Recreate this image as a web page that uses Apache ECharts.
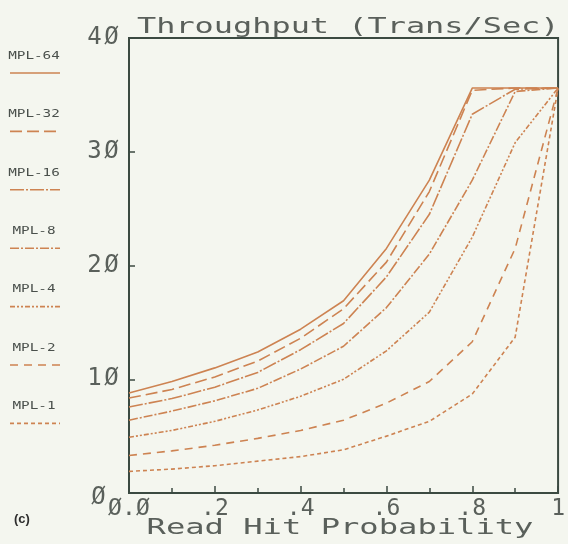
<!DOCTYPE html>
<html><head><meta charset="utf-8">
<script src="https://cdn.jsdelivr.net/npm/echarts@6/dist/echarts.min.js"></script>
<style>html,body{margin:0;padding:0;background:#f4f6ef;} #c{width:568px;height:544px;}</style>
</head><body><div id="c"></div>
<script>
// ---- data ----
const xValues = [0, 0.1, 0.2, 0.3, 0.4, 0.5, 0.6, 0.7, 0.8, 0.9, 1.0];
const seriesNames = ['MPL-64', 'MPL-32', 'MPL-16', 'MPL-8', 'MPL-4', 'MPL-2', 'MPL-1'];
const mpl64 = [8.8, 9.8, 11.0, 12.4, 14.4, 16.9, 21.5, 27.5, 35.6, 35.6, 35.6];
const mpl32 = [8.35, 9.1, 10.2, 11.6, 13.6, 16.2, 20.3, 26.5, 35.4, 35.6, 35.6];
const mpl16 = [7.56, 8.3, 9.3, 10.6, 12.6, 14.9, 19.0, 24.5, 33.3, 35.5, 35.6];
const mpl8  = [6.4, 7.2, 8.1, 9.2, 10.9, 12.9, 16.3, 21.0, 27.5, 35.3, 35.6];
const mpl4  = [4.9, 5.5, 6.3, 7.3, 8.5, 10.0, 12.5, 15.9, 22.5, 30.8, 35.6];
const mpl2  = [3.3, 3.7, 4.2, 4.8, 5.5, 6.4, 7.9, 9.8, 13.3, 21.5, 35.6];
const mpl1  = [1.9, 2.1, 2.4, 2.8, 3.2, 3.8, 5.0, 6.3, 8.7, 13.7, 35.6];
const xTickLabels = ['Ø.Ø', '.2', '.4', '.6', '.8', '1'];
const yTickLabels = ['Ø', '1Ø', '2Ø', '3Ø', '4Ø'];
const titleText = 'Throughput (Trans/Sec)';
const xAxisName = 'Read Hit Probability';
const panelLabel = '(c)';

// ---- styles ----
const allSeries = [mpl64, mpl32, mpl16, mpl8, mpl4, mpl2, mpl1];
const dashes = ['solid', [12, 5], [14, 2, 2, 2], [9, 2, 2, 2], [5, 2, 2, 2, 2, 2], [8, 6], [4, 3]];
const lineColor = '#cd8352';
const frameColor = '#3b4a41';
const textColor = '#5a605b';
const mono = '"DejaVu Sans Mono", monospace';

function charRich(str, style) {
  return str.split('').map(c => '{' + style + '|' + c + '}').join('');
}

const chart = echarts.init(document.getElementById('c'), null, {renderer: 'canvas'});

const graphics = [];
graphics.push({
  type: 'text', x: 137, y: 27, scaleX: 1.45, silent: true,
  style: {text: titleText, x: 0, y: 0, fill: textColor, font: '22px ' + mono, textAlign: 'left', textVerticalAlign: 'middle'}
});
graphics.push({
  type: 'text', x: 340, y: 529, scaleX: 1.53, silent: true,
  style: {text: xAxisName, x: 0, y: 0, fill: textColor, font: '21px ' + mono, textAlign: 'center', textVerticalAlign: 'middle'}
});
graphics.push({
  type: 'text', x: 14, y: 519, silent: true,
  style: {text: panelLabel, x: 0, y: 0, fill: '#2e2e2e', font: 'bold 13px "Liberation Sans", Arial, sans-serif', textAlign: 'left', textVerticalAlign: 'middle'}
});
seriesNames.forEach((name, i) => {
  const ty = 56 + i * 58.4;
  graphics.push({
    type: 'text', x: 34, y: ty, scaleX: 1.3, silent: true,
    style: {text: name, x: 0, y: 0, fill: '#4a504c', font: '11px ' + mono, textAlign: 'center', textVerticalAlign: 'middle'}
  });
  graphics.push({
    type: 'line', silent: true,
    shape: {x1: 10, y1: ty + 17, x2: 60, y2: ty + 17},
    style: {stroke: lineColor, lineWidth: 1.6, lineDash: dashes[i] === 'solid' ? null : dashes[i]}
  });
});

const option = {
  backgroundColor: '#f4f6ef',
  animation: false,
  grid: {left: 129, right: 3, top: 38, bottom: 51, show: true, borderColor: frameColor, borderWidth: 2, backgroundColor: 'transparent'},
  xAxis: {
    type: 'value', min: 0, max: 1, interval: 0.2,
    axisLine: {show: true, lineStyle: {color: frameColor, width: 2}},
    axisTick: {show: true, inside: true, length: 7, lineStyle: {color: frameColor, width: 1.5}},
    minorTick: {show: true, splitNumber: 2, length: 5, lineStyle: {color: frameColor, width: 1.5}},
    splitLine: {show: false},
    axisLabel: {
      margin: 5,
      formatter: v => charRich(xTickLabels[Math.round(v / 0.2)], 'd'),
      rich: {d: {width: 14, align: 'center', fontFamily: mono, fontSize: 23, color: textColor}}
    }
  },
  yAxis: {
    type: 'value', min: 0, max: 40, interval: 10,
    axisLine: {show: true, lineStyle: {color: frameColor, width: 2}},
    axisTick: {show: true, inside: true, length: 6, lineStyle: {color: frameColor, width: 1.5}},
    splitLine: {show: false},
    axisLabel: {
      margin: 9,
      formatter: v => {
        const lab = yTickLabels[Math.round(v / 10)];
        return v === 0 ? '{z|' + lab + '}' : charRich(lab, 'd');
      },
      rich: {
        d: {width: 17, align: 'center', fontFamily: mono, fontSize: 24, color: textColor},
        z: {width: 17, align: 'center', fontFamily: mono, fontSize: 24, color: textColor, padding: [10, 13, 0, 0]}
      }
    }
  },
  graphic: graphics,
  series: allSeries.map((d, i) => ({
    name: seriesNames[i], type: 'line', symbol: 'none', smooth: false,
    data: xValues.map((x, j) => [x, d[j]]),
    lineStyle: {color: lineColor, width: 1.6, type: dashes[i]},
    z: 10 - i
  }))
};
chart.setOption(option);
</script>
</body></html>
